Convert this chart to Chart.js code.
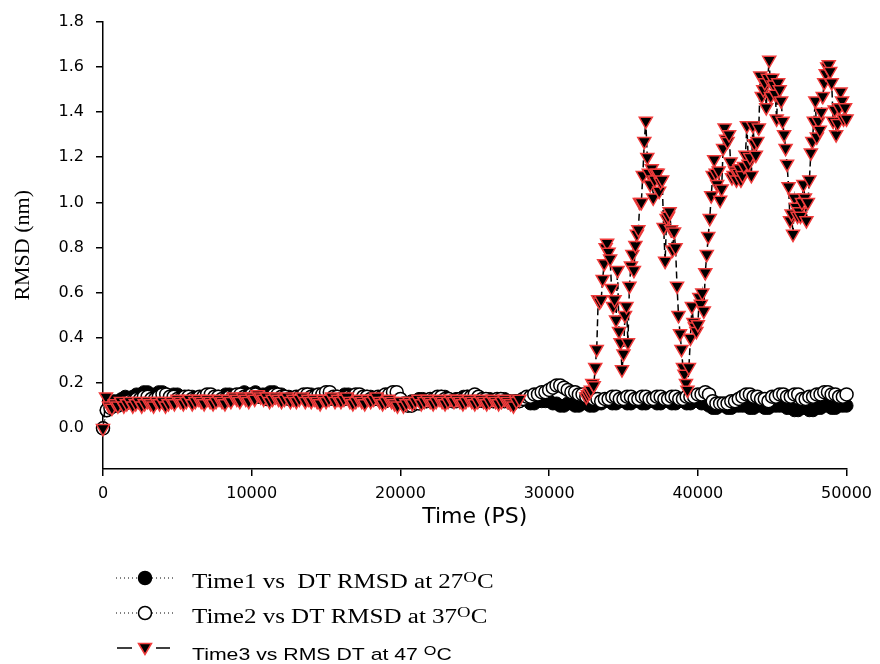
<!DOCTYPE html>
<html>
<head>
<meta charset="utf-8">
<script src="https://cdn.jsdelivr.net/npm/chart.js@4.4.0/dist/chart.umd.min.js"></script>
<style>
  body { margin: 0; background: #fff; }
</style>
</head>
<body>
<canvas id="rmsd-chart" width="880" height="664"></canvas>
<script>
  'use strict';

  // Axis ticks
  const xTicks = [0, 10000, 20000, 30000, 40000, 50000];
  const yTicks = [0, 0.2, 0.4, 0.6, 0.8, 1.0, 1.2, 1.4, 1.6, 1.8];

  // Time1 / Time2 sampled every 250 ps from 0 to 50000
  const time1Rmsd = [
    0.00, 0.08, 0.10, 0.12, 0.12, 0.13, 0.14, 0.13, 0.14, 0.15, 0.15, 0.16, 0.16, 0.15, 0.15, 0.16, 0.16, 0.15, 0.14, 0.15,
    0.15, 0.14, 0.13, 0.14, 0.14, 0.13, 0.13, 0.14, 0.14, 0.13, 0.13, 0.14, 0.14, 0.15, 0.15, 0.14, 0.14, 0.15, 0.16, 0.15,
    0.15, 0.16, 0.14, 0.15, 0.15, 0.16, 0.16, 0.15, 0.15, 0.14, 0.14, 0.13, 0.13, 0.14, 0.14, 0.15, 0.15, 0.14, 0.13, 0.14,
    0.14, 0.13, 0.13, 0.14, 0.14, 0.15, 0.15, 0.14, 0.14, 0.13, 0.13, 0.14, 0.14, 0.13, 0.13, 0.12, 0.12, 0.13, 0.13, 0.12,
    0.12, 0.11, 0.11, 0.12, 0.12, 0.13, 0.13, 0.12, 0.12, 0.13, 0.13, 0.14, 0.14, 0.12, 0.12, 0.13, 0.13, 0.14, 0.14, 0.13,
    0.13, 0.12, 0.12, 0.13, 0.13, 0.12, 0.12, 0.13, 0.13, 0.12, 0.12, 0.12, 0.12, 0.13, 0.13, 0.11, 0.11, 0.12, 0.12, 0.12,
    0.12, 0.11, 0.11, 0.10, 0.10, 0.11, 0.11, 0.10, 0.10, 0.11, 0.11, 0.10, 0.10, 0.11, 0.11, 0.12, 0.12, 0.11, 0.11, 0.12,
    0.12, 0.11, 0.11, 0.12, 0.12, 0.11, 0.11, 0.12, 0.12, 0.11, 0.11, 0.12, 0.12, 0.11, 0.11, 0.12, 0.12, 0.11, 0.11, 0.12,
    0.12, 0.11, 0.11, 0.10, 0.09, 0.09, 0.10, 0.10, 0.09, 0.09, 0.10, 0.10, 0.10, 0.10, 0.09, 0.09, 0.10, 0.10, 0.09, 0.09,
    0.10, 0.10, 0.10, 0.10, 0.09, 0.09, 0.08, 0.08, 0.09, 0.09, 0.08, 0.08, 0.09, 0.09, 0.10, 0.10, 0.09, 0.09, 0.10, 0.10,
    0.10
  ];

  const time2Rmsd = [
    0.00, 0.08, 0.09, 0.10, 0.10, 0.11, 0.11, 0.12, 0.12, 0.13, 0.13, 0.14, 0.14, 0.13, 0.13, 0.14, 0.15, 0.15, 0.14, 0.14,
    0.13, 0.13, 0.14, 0.14, 0.13, 0.13, 0.14, 0.14, 0.15, 0.15, 0.14, 0.14, 0.13, 0.13, 0.14, 0.14, 0.15, 0.15, 0.14, 0.14,
    0.15, 0.15, 0.14, 0.14, 0.13, 0.13, 0.15, 0.15, 0.14, 0.14, 0.13, 0.13, 0.14, 0.14, 0.15, 0.15, 0.14, 0.14, 0.15, 0.15,
    0.16, 0.16, 0.14, 0.14, 0.13, 0.13, 0.14, 0.14, 0.15, 0.15, 0.14, 0.14, 0.13, 0.13, 0.14, 0.14, 0.15, 0.15, 0.16, 0.16,
    0.13, 0.11, 0.10, 0.10, 0.11, 0.11, 0.12, 0.12, 0.13, 0.13, 0.14, 0.14, 0.13, 0.13, 0.12, 0.12, 0.13, 0.13, 0.14, 0.14,
    0.15, 0.14, 0.13, 0.13, 0.12, 0.12, 0.13, 0.13, 0.12, 0.12, 0.11, 0.12, 0.12, 0.13, 0.14, 0.14, 0.15, 0.15, 0.16, 0.16,
    0.17, 0.18, 0.19, 0.19, 0.18, 0.17, 0.16, 0.16, 0.15, 0.15, 0.14, 0.14, 0.13, 0.13, 0.12, 0.13, 0.13, 0.14, 0.14, 0.13,
    0.13, 0.14, 0.14, 0.13, 0.13, 0.14, 0.14, 0.13, 0.13, 0.14, 0.14, 0.13, 0.13, 0.14, 0.14, 0.13, 0.13, 0.14, 0.14, 0.14,
    0.15, 0.15, 0.16, 0.15, 0.12, 0.11, 0.11, 0.11, 0.11, 0.12, 0.12, 0.13, 0.14, 0.15, 0.15, 0.14, 0.14, 0.13, 0.13, 0.12,
    0.14, 0.14, 0.15, 0.15, 0.14, 0.14, 0.15, 0.15, 0.13, 0.13, 0.14, 0.14, 0.15, 0.15, 0.16, 0.16, 0.15, 0.15, 0.14, 0.14,
    0.15
  ];

  // Time3, first part every 200 ps from 0 to 28000
  const time3Early = [
    0.00, 0.14, 0.10, 0.09, 0.11, 0.10, 0.12, 0.10, 0.11, 0.12, 0.10, 0.11, 0.12, 0.10, 0.11, 0.12, 0.11, 0.10, 0.12, 0.11,
    0.12, 0.10, 0.11, 0.12, 0.11, 0.13, 0.12, 0.11, 0.12, 0.13, 0.11, 0.12, 0.13, 0.12, 0.11, 0.13, 0.12, 0.11, 0.12, 0.13,
    0.12, 0.11, 0.13, 0.12, 0.14, 0.13, 0.12, 0.14, 0.13, 0.12, 0.14, 0.13, 0.15, 0.14, 0.13, 0.14, 0.12, 0.13, 0.14, 0.13,
    0.12, 0.13, 0.14, 0.12, 0.13, 0.12, 0.13, 0.14, 0.12, 0.13, 0.12, 0.13, 0.12, 0.11, 0.13, 0.12, 0.13, 0.14, 0.12, 0.13,
    0.12, 0.13, 0.14, 0.12, 0.11, 0.12, 0.13, 0.12, 0.11, 0.13, 0.12, 0.13, 0.14, 0.12, 0.11, 0.12, 0.13, 0.12, 0.11, 0.10,
    0.12, 0.10, 0.11, 0.12, 0.11, 0.12, 0.13, 0.11, 0.12, 0.13, 0.12, 0.11, 0.12, 0.13, 0.12, 0.11, 0.12, 0.13, 0.12, 0.13,
    0.12, 0.11, 0.12, 0.13, 0.12, 0.11, 0.12, 0.13, 0.12, 0.11, 0.12, 0.13, 0.12, 0.11, 0.12, 0.13, 0.12, 0.11, 0.10, 0.12,
    0.13
  ];

  // Time3, second part every 100 ps from 32500 to 50000
  const time3Late = [
    0.14, 0.15, 0.16, 0.17, 0.20, 0.19, 0.27, 0.35, 0.57, 0.56,
    0.57, 0.66, 0.73, 0.80, 0.82, 0.78, 0.75, 0.62, 0.54, 0.57,
    0.48, 0.70, 0.43, 0.38, 0.26, 0.33, 0.50, 0.54, 0.38, 0.63,
    0.72, 0.77, 0.70, 0.81, 0.86, 0.88, 1.00, 1.00, 1.12, 1.27,
    1.36, 1.20, 1.13, 1.08, 1.15, 1.02, 1.10, 1.13, 1.13, 1.05,
    1.09, 1.10, 0.89, 0.74, 0.93, 0.94, 0.96, 0.88, 0.79, 0.87,
    0.80, 0.63, 0.50, 0.42, 0.35, 0.27, 0.24, 0.20, 0.17, 0.27,
    0.40, 0.54, 0.47, 0.45, 0.43, 0.46, 0.58, 0.55, 0.60, 0.52,
    0.69, 0.77, 0.85, 0.93, 1.03, 1.12, 1.19, 1.13, 1.08, 1.14,
    1.01, 1.06, 1.24, 1.33, 1.28, 1.27, 1.30, 1.18, 1.11, 1.12,
    1.14, 1.10, 1.13, 1.15, 1.10, 1.12, 1.16, 1.21, 1.34, 1.17,
    1.20, 1.12, 1.34, 1.26, 1.21, 1.27, 1.33, 1.56, 1.47, 1.50,
    1.53, 1.42, 1.55, 1.63, 1.47, 1.55, 1.52, 1.48, 1.37, 1.53,
    1.50, 1.45, 1.36, 1.30, 1.24, 1.17, 1.07, 0.92, 0.95, 0.86,
    1.02, 0.98, 0.94, 0.96, 0.94, 1.00, 1.08, 1.02, 0.92, 1.00,
    1.10, 1.22, 1.27, 1.36, 1.45, 1.29, 1.36, 1.32, 1.40, 1.47,
    1.53, 1.57, 1.60, 1.61, 1.58, 1.53, 1.36, 1.41, 1.30, 1.35,
    1.42, 1.49, 1.45, 1.37, 1.42, 1.37
  ];

  function toPoints(start, step, values) {
    return values.map((v, i) => ({ x: start + i * step, y: v }));
  }

  const time3Points = toPoints(0, 200, time3Early)
    .concat([{ x: 30000, y: null }])
    .concat(toPoints(32500, 100, time3Late));

  const SERIF = '"Liberation Serif", "Times New Roman", serif';
  const SANS = '"Liberation Sans", Arial, Helvetica, sans-serif';

  // Legend under the plot, drawn by hand (superscript degree "O")
  function drawParts(ctx, x, y, parts) {
    parts.forEach((p) => {
      ctx.save();
      ctx.font = p.font;
      ctx.translate(x, y + (p.dy || 0));
      ctx.scale(1.25, 1);
      ctx.fillText(p.text, 0, 0);
      x += ctx.measureText(p.text).width * 1.25;
      ctx.restore();
    });
  }

  const bottomLegend = {
    id: 'bottomLegend',
    afterDraw(chart) {
      const ctx = chart.ctx;
      ctx.save();
      ctx.fillStyle = '#000';
      ctx.strokeStyle = '#000';
      ctx.textBaseline = 'alphabetic';

      // rows 1 and 2: dotted line with a circle
      [[578, '#000', 'Time1 vs  DT RMSD at 27'], [613, '#fff', 'Time2 vs DT RMSD at 37']].forEach(([y, fill, label]) => {
        ctx.strokeStyle = '#000';
        ctx.lineWidth = 1;
        ctx.setLineDash([1, 3]);
        ctx.beginPath();
        ctx.moveTo(116, y);
        ctx.lineTo(176, y);
        ctx.stroke();
        ctx.setLineDash([]);
        ctx.beginPath();
        ctx.arc(145, y, 6.5, 0, Math.PI * 2);
        ctx.fillStyle = fill;
        ctx.fill();
        ctx.lineWidth = 1.5;
        ctx.stroke();
        ctx.fillStyle = '#000';
        drawParts(ctx, 192, y + 10, [
          { text: label, font: '20px ' + SERIF },
          { text: 'O', font: '15px ' + SERIF, dy: -6 },
          { text: 'C', font: '20px ' + SERIF }
        ]);
      });

      // row 3: dashed line with a red-edged triangle
      const y3 = 648;
      ctx.strokeStyle = '#000';
      ctx.lineWidth = 1.5;
      ctx.beginPath();
      ctx.moveTo(117, y3); ctx.lineTo(132, y3);
      ctx.moveTo(156, y3); ctx.lineTo(170, y3);
      ctx.stroke();
      ctx.beginPath();
      ctx.moveTo(145, y3 + 6.5);
      ctx.lineTo(138.5, y3 - 4.5);
      ctx.lineTo(151.5, y3 - 4.5);
      ctx.closePath();
      ctx.fillStyle = '#000';
      ctx.fill();
      ctx.strokeStyle = '#f03c3c';
      ctx.stroke();
      ctx.fillStyle = '#000';
      drawParts(ctx, 192, 660, [
        { text: 'Time3 vs RMS DT at 47 ', font: '17px ' + SANS },
        { text: 'O', font: '13px ' + SANS, dy: -5 },
        { text: 'C', font: '17px ' + SANS }
      ]);
      ctx.restore();
    }
  };

  const tickFont = { family: '"DejaVu Sans"', size: 16 };

  function buildChart() {
    const ctx = document.getElementById('rmsd-chart').getContext('2d');
    return new Chart(ctx, {
      type: 'line',
      data: {
        datasets: [
          {
            label: 'Time3 vs RMS DT at 47 °C',
            data: time3Points,
            order: 1,
            borderColor: '#000',
            borderWidth: 1.5,
            borderDash: [7, 4],
            pointStyle: 'triangle',
            rotation: 180,
            pointRadius: 7.5,
            pointBackgroundColor: '#000',
            pointBorderColor: '#f03c3c',
            pointBorderWidth: 1.5,
            clip: false
          },
          {
            label: 'Time2 vs DT RMSD at 37 °C',
            data: toPoints(0, 250, time2Rmsd),
            order: 2,
            borderColor: '#000',
            borderWidth: 1,
            borderDash: [1, 3],
            pointRadius: 6.5,
            pointBackgroundColor: '#fff',
            pointBorderColor: '#000',
            pointBorderWidth: 1.5,
            clip: false
          },
          {
            label: 'Time1 vs DT RMSD at 27 °C',
            data: toPoints(0, 250, time1Rmsd),
            order: 3,
            borderColor: '#000',
            borderWidth: 1,
            borderDash: [1, 3],
            pointRadius: 6.5,
            pointBackgroundColor: '#000',
            pointBorderColor: '#000',
            pointBorderWidth: 1,
            clip: false
          }
        ]
      },
      options: {
        responsive: false,
        animation: false,
        spanGaps: false,
        elements: { line: { tension: 0 } },
        layout: { padding: { top: 21, right: 32, bottom: 134, left: 0 } },
        plugins: {
          legend: { display: false },
          tooltip: { enabled: false }
        },
        scales: {
          x: {
            type: 'linear',
            min: 0,
            max: 50000,
            afterFit: (s) => { s.height = 61; },
            afterBuildTicks: (s) => { s.ticks = xTicks.map(v => ({ value: v })); },
            grid: { drawOnChartArea: false, drawTicks: true, tickLength: 7, color: '#000', lineWidth: 1.5 },
            border: { display: true, color: '#000', width: 1.5 },
            ticks: { color: '#000', font: tickFont, padding: 8, maxRotation: 0, callback: v => String(v) },
            title: { display: true, text: 'Time (PS)', color: '#000', font: { family: '"DejaVu Sans"', size: 22 }, padding: 0 }
          },
          y: {
            min: -0.18,
            max: 1.8,
            afterFit: (s) => { s.width = 103; },
            afterBuildTicks: (s) => { s.ticks = yTicks.map(v => ({ value: v })); },
            grid: { drawOnChartArea: false, drawTicks: true, tickLength: 7, color: '#000', lineWidth: 1.5 },
            border: { display: true, color: '#000', width: 1.5 },
            ticks: { color: '#000', font: tickFont, padding: 12, callback: v => v.toFixed(1) },
            title: { display: true, text: 'RMSD (nm)', color: '#000', font: { family: '"Liberation Serif"', size: 22 }, padding: { top: 10, bottom: 0 } }
          }
        }
      },
      plugins: [bottomLegend]
    });
  }

  Promise.all([
    document.fonts.load('17px "Liberation Sans"'),
    document.fonts.load('20px "Liberation Serif"'),
    document.fonts.load('16px "DejaVu Sans"')
  ]).catch(() => null).then(buildChart);
</script>
</body>
</html>
